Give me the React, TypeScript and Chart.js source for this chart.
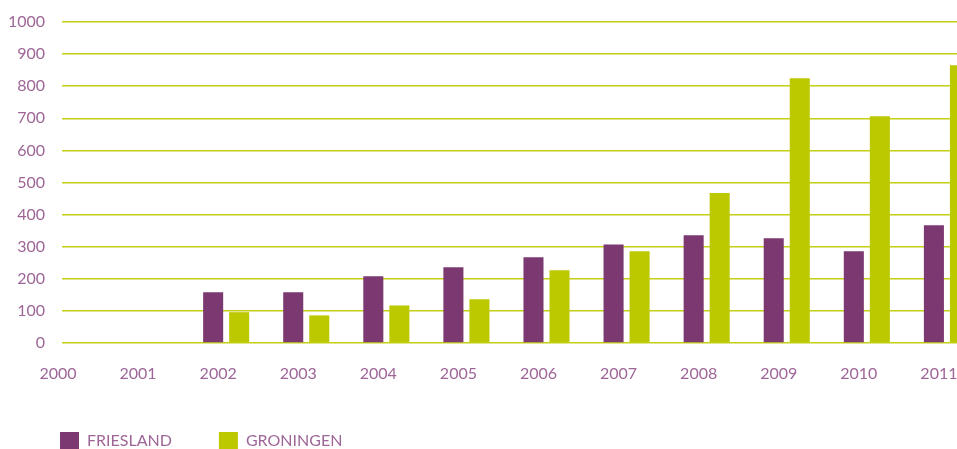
import React, { useEffect, useRef } from "react";
import { Chart, registerables } from "chart.js";

Chart.register(...registerables);

const years = ["2000", "2001", "2002", "2003", "2004", "2005", "2006", "2007", "2008", "2009", "2010", "2011"];
const friesland = [null, null, 158, 158, 208, 236, 267, 307, 336, 326, 286, 367];
const groningen = [null, null, 96, 86, 117, 136, 227, 286, 467, 825, 706, 865];
const yMin = 0;
const yMax = 1000;
const yStep = 100;

const PURPLE = "#7c3870";
const GREEN = "#bcc800";
const TEXT = "#9e6597";
const GRID = "#c3cf14";
const FONT = "Lato, 'Open Sans', sans-serif";

// let the y tick labels use the space left of the axis box
const unclipYLabels = {
  id: "unclipYLabels",
  afterLayout(chart: any) {
    if (chart.scales.y) chart.scales.y.left = 0;
  },
};

export default function App() {
  const ref = useRef<HTMLCanvasElement | null>(null);

  useEffect(() => {
    if (!ref.current) return;
    const labels = [...years, ""];
    const chart = new Chart(ref.current, {
      type: "bar",
      data: {
        labels,
        datasets: [
          {
            label: "FRIESLAND",
            data: [...friesland, null],
            backgroundColor: PURPLE,
            borderWidth: 0,
            categoryPercentage: 0.65,
            barPercentage: 0.77,
          },
          {
            label: "GRONINGEN",
            data: [...groningen, null],
            backgroundColor: GREEN,
            borderWidth: 0,
            categoryPercentage: 0.65,
            barPercentage: 0.77,
          },
        ],
      },
      plugins: [unclipYLabels],
      options: {
        animation: false,
        responsive: true,
        maintainAspectRatio: false,
        layout: { padding: { left: 13, right: 14, top: 22, bottom: 0 } },
        plugins: {
          tooltip: { enabled: false },
          legend: {
            position: "bottom",
            align: "start",
            maxHeight: 64,
            labels: {
              boxWidth: 19,
              boxHeight: 17,
              padding: 47,
              color: TEXT,
              font: { family: FONT, size: 16, weight: 400 },
            },
          },
        },
        scales: {
          x: {
            offset: false,
            grid: { display: false, drawTicks: false },
            border: { display: false },
            ticks: {
              autoSkip: false,
              maxRotation: 0,
              padding: 21,
              labelOffset: -8,
              color: TEXT,
              font: { family: FONT, size: 16, weight: 400 },
            },
            afterFit: (scale: any) => {
              scale.height = 42;
            },
          },
          y: {
            min: yMin,
            max: yMax,
            grid: {
              color: GRID,
              lineWidth: 1.5,
              drawTicks: true,
              tickLength: 21,
              tickColor: GRID,
              tickBorderDash: [0, 17, 4, 100],
            },
            border: { display: false },
            ticks: {
              stepSize: yStep,
              padding: 0,
              color: TEXT,
              font: { family: FONT, size: 16, weight: 400 },
              callback: (v: any) => String(v),
            },
            afterFit: (scale: any) => {
              scale.width = 53;
            },
          },
        },
      },
    });
    return () => chart.destroy();
  }, []);

  return (
    <div style={{ position: "fixed", left: 0, top: 0, width: 957, height: 449, overflow: "hidden", background: "#fff" }}>
      <div style={{ position: "relative", width: 1048, height: 449 }}>
        <canvas ref={ref} />
      </div>
    </div>
  );
}
